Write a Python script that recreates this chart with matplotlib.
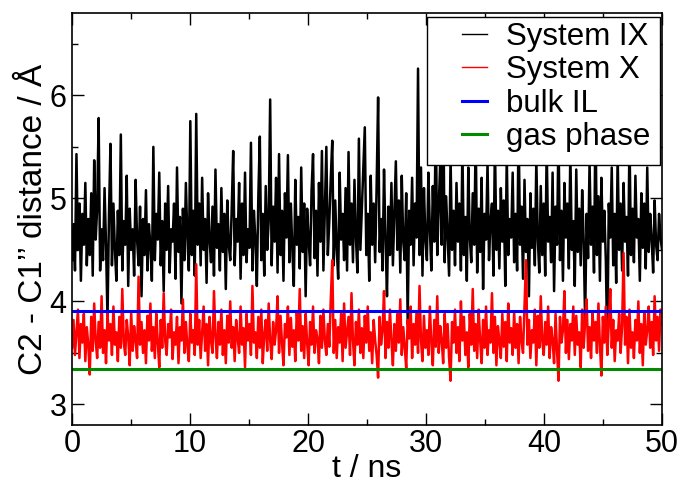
import numpy as np
import matplotlib
matplotlib.use('Agg')
import matplotlib.pyplot as plt
from matplotlib.patches import Rectangle

# C2 - C1'' distance (Angstrom), sampled evenly over 0..50 ns
system_ix = [
    4.40, 4.75, 4.30, 5.43, 4.50, 4.95, 4.20, 4.85, 4.55, 5.15,
    4.35, 4.80, 4.45, 5.05, 4.25, 5.37, 4.60, 4.90, 5.78, 4.30,
    4.70, 4.40, 5.10, 4.55, 3.82, 4.85, 5.53, 4.35, 4.95, 4.50,
    4.20, 4.88, 4.45, 5.62, 4.30, 4.78, 4.55, 5.22, 4.15, 4.90,
    4.50, 4.70, 4.25, 5.18, 4.60, 4.35, 4.92, 4.05, 4.80, 4.45,
    5.08, 4.30, 4.75, 4.55, 4.20, 5.50, 4.40, 4.85, 4.60, 5.25,
    4.35, 4.78, 4.10, 4.95, 4.50, 5.12, 4.28, 4.70, 4.58, 4.95,
    4.22, 5.30, 4.48, 4.82, 3.98, 4.90, 4.40, 5.15, 4.62, 4.30,
    5.75, 4.45, 4.88, 4.25, 5.82, 4.55, 4.95, 4.35, 5.20, 4.50,
    4.80, 4.18, 5.05, 4.60, 4.38, 4.92, 4.25, 5.28, 4.52, 4.75,
    4.30, 5.10, 4.48, 4.85, 4.12, 4.98, 4.55, 4.40, 4.90, 5.46,
    4.35, 4.80, 4.58, 5.15, 4.22, 4.95, 4.45, 5.25, 4.38, 4.70,
    4.52, 5.54, 4.30, 4.88, 4.60, 4.15, 5.02, 5.60, 4.40, 4.85,
    4.25, 5.12, 4.50, 4.78, 5.96, 4.35, 4.92, 4.58, 5.20, 4.28,
    5.43, 4.45, 4.88, 4.20, 5.05, 4.62, 5.42, 4.38, 4.95, 4.50,
    4.15, 5.18, 4.55, 4.82, 4.32, 5.30, 4.48, 4.95, 4.05, 4.90,
    4.60, 4.35, 5.08, 5.43, 4.42, 4.88, 4.25, 5.15, 4.58, 5.46,
    4.30, 4.92, 5.50, 4.45, 4.78, 5.20, 5.56, 4.35, 4.98, 4.52,
    4.22, 5.25, 4.60, 4.85, 4.40, 5.10, 4.30, 5.45, 4.55, 4.95,
    4.38, 5.18, 4.62, 4.28, 5.58, 4.50, 4.90, 5.32, 5.69, 4.45,
    4.85, 4.20, 5.22, 4.55, 4.95, 4.38, 5.12, 5.98, 4.48, 4.80,
    4.30, 5.28, 4.62, 4.05, 4.92, 4.45, 5.15, 4.35, 4.85, 5.36,
    4.50, 4.98, 4.28, 5.22, 4.58, 4.40, 5.05, 3.80, 4.88, 4.55,
    5.20, 4.35, 4.95, 4.62, 6.26, 4.45, 5.30, 4.25, 5.10, 4.60,
    4.40, 5.25, 4.70, 4.30, 5.12, 4.58, 5.78, 4.45, 4.92, 5.35,
    4.55, 6.11, 4.38, 5.02, 4.62, 4.25, 5.40, 4.50, 4.88, 4.35,
    5.15, 4.58, 4.95, 4.30, 5.48, 4.45, 4.82, 4.20, 5.30, 4.62,
    4.38, 5.05, 4.55, 5.62, 4.28, 4.90, 4.48, 5.20, 4.12, 4.85,
    4.60, 5.35, 4.40, 4.78, 4.95, 4.25, 5.55, 4.50, 4.88, 4.32,
    5.10, 4.58, 4.98, 4.15, 5.42, 4.45, 4.80, 4.62, 5.25, 4.38,
    4.85, 4.30, 5.72, 4.55, 4.92, 4.22, 5.18, 4.48, 4.80, 4.05,
    5.05, 4.52, 4.90, 4.35, 5.38, 4.60, 4.28, 5.12, 4.45, 4.95,
    4.25, 5.50, 4.58, 4.82, 4.38, 5.25, 4.10, 4.92, 4.55, 5.65,
    4.40, 4.88, 4.20, 5.15, 4.62, 4.95, 4.32, 5.45, 4.50, 4.78,
    4.15, 5.28, 4.48, 4.90, 4.35, 5.08, 4.60, 3.82, 4.85, 4.42,
    5.35, 4.55, 4.92, 4.28, 5.80, 4.45, 5.02, 4.20, 5.20, 4.58,
    4.88, 4.40, 3.56, 4.95, 4.62, 5.30, 4.35, 4.85, 4.18, 5.42,
    4.50, 4.95, 4.30, 5.15, 4.58, 4.82, 4.25, 5.60, 4.45, 4.90,
    4.38, 5.22, 4.62, 4.80, 4.20, 5.05, 4.52, 4.95, 4.32, 5.30,
    4.48, 4.85, 4.60, 4.28, 4.98, 4.55, 4.40, 4.85, 4.62, 4.50,
]
system_x = [
    3.55, 3.82, 3.48, 3.70, 3.92, 3.45, 3.78, 3.60, 3.88, 3.42,
    3.75, 3.58, 3.29, 3.85, 3.52, 3.98, 3.62, 3.45, 3.80, 3.55,
    4.05, 3.50, 3.72, 3.40, 3.88, 3.62, 3.78, 3.48, 3.95, 3.58,
    3.70, 3.42, 3.85, 3.55, 4.12, 3.60, 3.48, 3.82, 3.66, 3.38,
    3.90, 3.52, 3.76, 3.62, 3.45, 4.24, 3.58, 3.80, 3.50, 3.72,
    3.40, 3.86, 3.62, 3.98, 3.52, 3.75, 3.45, 3.88, 3.60, 3.36,
    3.82, 3.55, 4.08, 3.62, 3.48, 3.78, 3.65, 3.92, 3.44, 3.70,
    3.58, 3.85, 3.40, 3.75, 3.62, 4.02, 3.50, 3.80, 3.56, 3.42,
    3.88, 3.60, 3.72, 3.48, 4.36, 3.58, 3.82, 3.45, 3.70, 3.95,
    3.52, 3.78, 3.38, 3.85, 3.62, 3.50, 4.10, 3.66, 3.45, 3.80,
    3.58, 3.92, 3.48, 3.72, 3.40, 3.86, 3.60, 4.00, 3.55, 3.75,
    3.42, 3.82, 3.65, 3.50, 3.95, 3.58, 3.74, 3.36, 3.88, 3.62,
    3.78, 3.48, 4.15, 3.60, 3.70, 3.45, 3.85, 3.55, 3.92, 3.40,
    3.68, 3.82, 3.52, 3.98, 3.62, 3.44, 3.80, 3.58, 3.72, 4.05,
    3.50, 3.86, 3.60, 3.38, 3.78, 3.65, 3.95, 3.48, 3.84, 3.56,
    3.72, 3.42, 3.90, 3.62, 4.12, 3.52, 3.76, 3.45, 3.88, 3.60,
    3.38, 3.80, 3.58, 3.95, 3.50, 3.72, 3.64, 3.40, 3.86, 3.55,
    3.92, 3.62, 3.48, 3.78, 3.56, 4.02, 4.40, 3.50, 3.82, 3.45,
    3.75, 3.60, 3.88, 3.42, 3.98, 3.55, 3.70, 3.85, 3.48, 4.08,
    3.62, 3.38, 3.80, 3.58, 3.92, 3.50, 3.74, 3.45, 3.86, 3.60,
    3.95, 3.52, 3.70, 3.40, 3.82, 3.62, 3.48, 3.26, 3.85, 3.58,
    3.72, 4.10, 3.45, 3.80, 3.55, 3.92, 3.62, 3.38, 3.78, 3.52,
    3.88, 3.60, 4.02, 3.48, 3.75, 3.56, 3.35, 3.82, 3.64, 3.95,
    3.45, 3.78, 3.58, 3.90, 3.50, 4.15, 3.62, 3.42, 3.86, 3.55,
    3.72, 3.48, 3.95, 3.60, 3.38, 3.82, 3.56, 4.05, 3.50, 3.76,
    3.62, 3.40, 3.88, 3.55, 3.78, 3.45, 3.23, 3.80, 3.60, 3.92,
    3.50, 3.75, 3.42, 4.00, 3.62, 3.85, 3.48, 3.70, 3.36, 3.88,
    3.58, 4.12, 3.52, 3.78, 3.45, 3.92, 3.62, 3.40, 3.82, 3.55,
    3.95, 3.48, 3.72, 3.60, 4.08, 3.50, 3.85, 3.38, 3.76, 3.62,
    3.45, 3.88, 3.56, 3.80, 3.42, 3.98, 3.60, 3.74, 3.48, 3.90,
    3.55, 3.78, 3.40, 3.85, 3.62, 3.50, 3.95, 4.40, 3.58, 3.82,
    3.45, 3.72, 3.60, 3.92, 3.38, 3.86, 3.55, 4.05, 3.62, 3.48,
    3.80, 3.58, 3.95, 3.45, 3.75, 3.62, 3.40, 3.88, 3.52, 3.23,
    3.85, 3.60, 3.72, 4.10, 3.50, 3.82, 3.44, 3.78, 3.62, 3.95,
    3.48, 3.86, 3.58, 3.70, 3.36, 3.92, 3.55, 3.80, 4.02, 3.52,
    3.75, 3.45, 3.90, 3.62, 3.80, 3.50, 3.98, 3.58, 3.28, 3.85,
    3.60, 3.95, 3.48, 3.78, 4.12, 3.55, 3.82, 3.42, 3.72, 3.62,
    3.88, 3.50, 3.76, 4.47, 3.58, 3.85, 3.40, 3.92, 3.55, 3.70,
    3.45, 3.82, 3.62, 4.00, 3.50, 3.78, 3.38, 3.90, 3.58, 3.72,
    3.95, 3.55, 3.80, 3.48, 4.05, 3.62, 3.85, 3.52, 3.92, 3.78,
]
bulk_il = 3.91
gas_phase = 3.345
t_end = 50.0

plt.rcParams['font.family'] = ['Liberation Sans', 'DejaVu Sans']

t = np.linspace(0, t_end, len(system_ix))

fig = plt.figure(figsize=(6.82, 4.86), dpi=100)
ax = fig.add_axes([0.1056, 0.1255, 0.8651, 0.8478])

ax.plot(t, system_ix, color='black', lw=1.8, label='System IX')
ax.plot(t, system_x, color='#ff0000', lw=1.8, label='System X')
ax.axhline(bulk_il, color='#0000ff', lw=2.2, label='bulk IL')
ax.axhline(gas_phase, color='#008b00', lw=2.2, label='gas phase')

ax.set_xlim(0, 50)
ax.set_ylim(2.8, 6.8)
ax.set_xticks([0, 10, 20, 30, 40, 50])
ax.set_xticks([5, 15, 25, 35, 45], minor=True)
ax.set_yticks([3, 4, 5, 6])
ax.set_yticks([3.5, 4.5, 5.5, 6.5], minor=True)
ax.tick_params(which='both', direction='in', top=True, right=True, width=1.0,
               labelsize=22)
ax.tick_params(which='major', length=8.5)
ax.tick_params(which='minor', length=4.5)
ax.tick_params(axis='x', pad=3)
ax.tick_params(axis='y', pad=4)
for sp in ax.spines.values():
    sp.set_linewidth(1.2)

ax.set_xlabel('t / ns', fontsize=23, labelpad=-4)
ax.set_ylabel('C2 - C1\u2019\u2019 distance / \u00c5', fontsize=24, labelpad=0)

# legend box: white frame with a wide left margin, legend entries on top
W, H = 682.0, 486.0
box = Rectangle((427 / W, 1 - 165 / H), 233 / W, 148 / H, transform=fig.transFigure,
                facecolor='white', edgecolor='black', lw=1.0, zorder=4)
ax.add_patch(box)
leg = ax.legend(loc='upper left', bbox_to_anchor=(462 / W, 1 - 22 / H),
                bbox_transform=fig.transFigure, fontsize=22.5, frameon=False,
                handlelength=0.8, handletextpad=0.6, labelspacing=0.11,
                borderpad=0.0, borderaxespad=0.0)
leg.set_zorder(5)
for h in leg.legend_handles[:2]:
    h.set_linewidth(1.0)

fig.savefig('out.png', dpi=100)
